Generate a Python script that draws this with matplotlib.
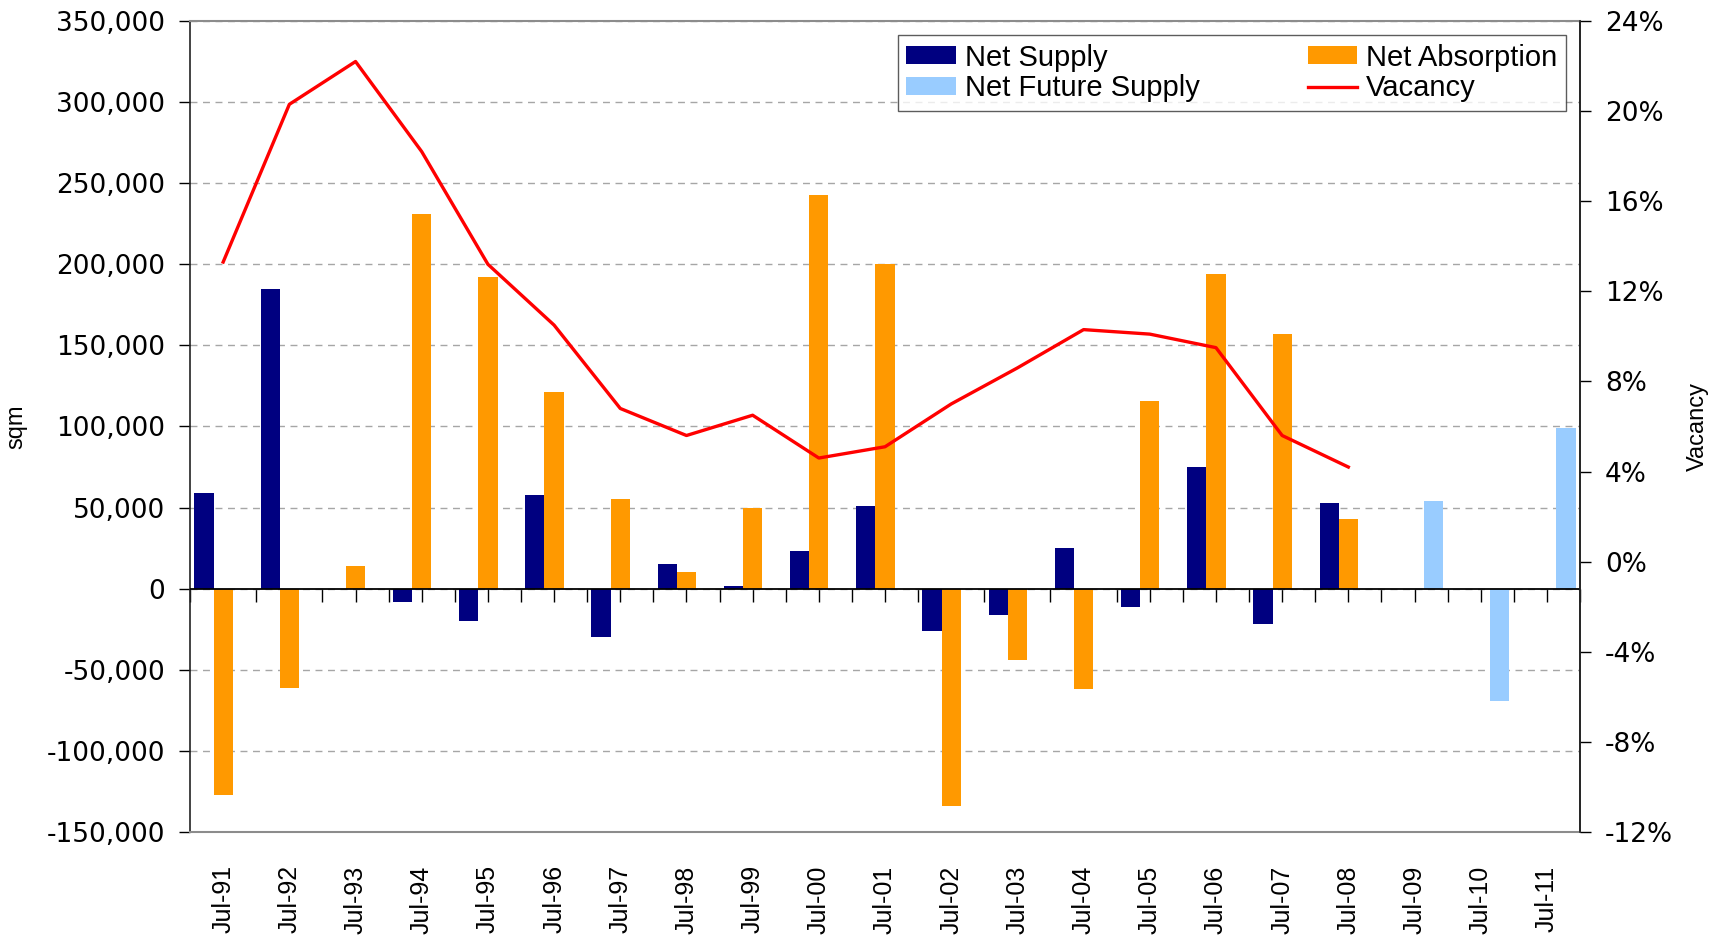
import numpy as np
import matplotlib
matplotlib.use("Agg")
import matplotlib.pyplot as plt
from matplotlib.ticker import FuncFormatter, MultipleLocator, NullFormatter

# office market: supply / absorption (sqm) and vacancy rate
years = ["Jul-91", "Jul-92", "Jul-93", "Jul-94", "Jul-95", "Jul-96", "Jul-97",
         "Jul-98", "Jul-99", "Jul-00", "Jul-01", "Jul-02", "Jul-03", "Jul-04",
         "Jul-05", "Jul-06", "Jul-07", "Jul-08", "Jul-09", "Jul-10", "Jul-11"]
nan = np.nan
net_supply = [59000, 185000, nan, -8000, -20000, 57500, -30000, 15500, 1500,
              23500, 51000, -26000, -16000, 25000, -11500, 75000, -21500, 53000,
              nan, nan, nan]
net_absorption = [-127000, -61000, 14000, 231000, 192000, 121000, 55000, 10000,
                  50000, 243000, 200000, -134000, -44000, -62000, 116000, 194000,
                  157000, 43000, nan, nan, nan]
net_future_supply = [nan] * 18 + [54000, -69000, 99000]
vacancy = [0.133, 0.203, 0.222, 0.182, 0.132, 0.105, 0.068, 0.056, 0.065,
           0.046, 0.051, 0.070, 0.086, 0.103, 0.101, 0.095, 0.056, 0.042,
           nan, nan, nan]

plt.rcParams["font.family"] = ["Liberation Sans", "DejaVu Sans"]

fig = plt.figure(figsize=(17.17, 9.36), dpi=100)
ax = fig.add_axes([0.1107, 0.1111, 0.8095, 0.8665])

x = np.arange(len(years))
w = 0.29
ax.bar(x - w, net_supply, w, color="#000080", label="Net Supply")
ax.bar(x, net_absorption, w, color="#FF9900", label="Net Absorption")
ax.bar(x + w, net_future_supply, w, color="#99CCFF", label="Net Future Supply")

ax.set_xlim(-0.5, len(years) - 0.5)
ax.set_ylim(-150000, 350000)
ax.yaxis.set_major_locator(MultipleLocator(50000))
ax.yaxis.set_major_formatter(FuncFormatter(lambda v, p: f"{v:,.0f}"))
ax.yaxis.grid(True, color="#a6a6a6", linestyle=(0, (5, 4)), linewidth=1)
ax.set_axisbelow(True)
ax.tick_params(axis="y", labelsize=19, length=8, width=1, direction="out", pad=10)
for t in ax.get_yticklabels():
    t.set_family("DejaVu Sans")
ax.set_ylabel("sqm", fontsize=17, labelpad=14)

ax.set_xticks(x)
ax.set_xticklabels(years, rotation=90, fontsize=18)
ax.tick_params(axis="x", length=0, pad=24)

for s in ["top", "bottom"]:
    ax.spines[s].set_color("#8c8c8c")
    ax.spines[s].set_linewidth(1.5)
for s in ["left", "right"]:
    ax.spines[s].set_color("#222222")
    ax.spines[s].set_linewidth(1.2)

# category axis line sits at zero
ax.axhline(0, color="black", linewidth=1.3, zorder=3)
zero = 150000 / 500000
sec = ax.secondary_xaxis(zero)
sec.set_xticks(np.arange(-0.5, len(years), 0.5))
sec.xaxis.set_major_formatter(NullFormatter())
sec.tick_params(axis="x", direction="out", length=9, width=1, color="black")
sec.spines["bottom"].set_visible(False)
sec.spines["top"].set_visible(False)

ax2 = ax.twinx()
ax2.plot(x, vacancy, color="#FF0000", linewidth=2.4, label="Vacancy")
ax2.set_ylim(-0.12, 0.24)
ax2.yaxis.set_major_locator(MultipleLocator(0.04))
ax2.yaxis.set_major_formatter(FuncFormatter(lambda v, p: f"{v * 100:.0f}%"))
ax2.tick_params(axis="y", labelsize=19, length=8, width=1, direction="out", pad=10)
for t in ax2.get_yticklabels():
    t.set_family("DejaVu Sans")
ax2.set_ylabel("Vacancy", fontsize=17, labelpad=10)
for s in ["top", "bottom", "left"]:
    ax2.spines[s].set_visible(False)
ax2.spines["right"].set_color("#222222")
ax2.spines["right"].set_linewidth(1.2)

h1, l1 = ax.get_legend_handles_labels()
h2, l2 = ax2.get_legend_handles_labels()
handles = [h1[0], h1[2], h1[1], h2[0]]
labels = [l1[0], l1[2], l1[1], l2[0]]
leg = ax2.legend(handles, labels, ncol=2, loc="upper left", mode="expand",
                 bbox_to_anchor=(0.509, 0.983, 0.481, 0.0), fontsize=21,
                 frameon=True, fancybox=False, edgecolor="#333333",
                 borderpad=0.3, labelspacing=0.1, handlelength=1.7,
                 handleheight=0.6, handletextpad=0.3, columnspacing=1.8,
                 borderaxespad=0)
leg.get_frame().set_linewidth(1)

fig.savefig("out.png", dpi=100)
